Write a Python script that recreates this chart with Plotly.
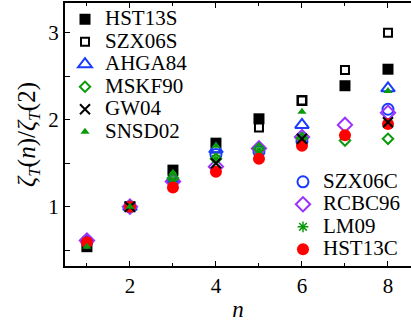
import plotly.graph_objects as go

# ---- data ----
n_hst13s = [1, 2, 3, 4, 5, 6, 7, 8]
v_hst13s = [0.54, 1.0, 1.42, 1.73, 2.01, 2.22, 2.39, 2.58]

n_szx06s = [1, 2, 3, 4, 5, 6, 7, 8]
v_szx06s = [0.56, 1.0, 1.36, 1.67, 1.91, 2.22, 2.57, 3.0]

n_ahga84 = [2, 3, 4, 6, 8]
v_ahga84 = [1.0, 1.32, 1.66, 1.94, 2.36]

n_mskf90 = [2, 3, 4, 5, 6, 7, 8]
v_mskf90 = [1.0, 1.33, 1.55, 1.67, 1.79, 1.76, 1.78]

n_gw04 = [2, 4, 6, 8]
v_gw04 = [1.0, 1.5, 1.78, 1.97]

n_snsd02 = [1, 2, 3, 4, 6, 8]
v_snsd02 = [0.54, 1.0, 1.39, 1.70, 2.09, 2.33]

n_szx06c = [1, 2, 3, 4, 5, 6, 8]
v_szx06c = [0.6, 1.0, 1.30, 1.60, 1.63, 1.75, 2.12]

n_rcbc96 = [1, 2, 3, 4, 5, 6, 7, 8]
v_rcbc96 = [0.61, 1.0, 1.29, 1.46, 1.67, 1.80, 1.94, 2.08]

n_lm09 = [2, 3, 4, 5, 6]
v_lm09 = [1.0, 1.31, 1.55, 1.65, 1.78]

n_hst13c = [1, 2, 3, 4, 5, 6, 7, 8]
v_hst13c = [0.59, 1.0, 1.22, 1.40, 1.55, 1.70, 1.82, 1.95]

BLUE = "#1a3cff"
GREEN = "#0a9a0a"
PURPLE = "#9b30ff"
RED = "#ff0000"
SERIF = "Liberation Serif, Times New Roman, serif"

def lab(s):
    return "<span style='font-size:21px'>%s</span>" % s

fig = go.Figure()

def add(x, y, name, legend, rank, symbol, size, color, lcolor, lw):
    fig.add_trace(go.Scatter(
        x=x, y=y, mode="markers", name=lab(name), legend=legend, legendrank=rank,
        marker=dict(symbol=symbol, size=size, color=color,
                    line=dict(color=lcolor, width=lw)),
    ))

add(n_hst13s, v_hst13s, "HST13S", "legend", 1, "square", 11, "black", "black", 0)
add(n_szx06s, v_szx06s, "SZX06S", "legend", 2, "square", 8, "white", "black", 2)
add(n_ahga84, v_ahga84, "AHGA84", "legend", 3, "triangle-up-open", 12, BLUE, BLUE, 2)
add(n_szx06c, v_szx06c, "SZX06C", "legend2", 7, "circle-open", 11, BLUE, BLUE, 2)
add(n_rcbc96, v_rcbc96, "RCBC96", "legend2", 8, "diamond-open", 11, PURPLE, PURPLE, 2)
add(n_mskf90, v_mskf90, "MSKF90", "legend", 4, "diamond-open", 8, GREEN, GREEN, 2)
add(n_lm09, v_lm09, "LM09", "legend2", 9, "asterisk-open", 9, GREEN, GREEN, 1.5)
add(n_hst13c, v_hst13c, "HST13C", "legend2", 10, "circle", 12, RED, RED, 0)
add(n_gw04, v_gw04, "GW04", "legend", 5, "x-thin-open", 10, "black", "black", 2)
add(n_snsd02, v_snsd02, "SNSD02", "legend", 6, "triangle-up", 8, GREEN, GREEN, 0)

legend_common = dict(font=dict(family=SERIF, size=15, color="black"),
                     bgcolor="rgba(0,0,0,0)", borderwidth=0,
                     itemwidth=30, tracegroupgap=0,
                     xanchor="left", yanchor="top")

fig.update_layout(
    width=411, height=324,
    margin=dict(l=65, r=0, t=3, b=58),
    paper_bgcolor="white", plot_bgcolor="white",
    font=dict(family=SERIF, size=21, color="black"),
    showlegend=True,
    legend=dict(x=0.0, y=1.0, **legend_common),
    legend2=dict(x=0.63, y=0.382, **legend_common),
    xaxis=dict(
        range=[0.49, 8.535], tickvals=[2, 4, 6, 8], ticks="inside", ticklen=5,
        tickwidth=1, tickcolor="black",
        minor=dict(tickvals=[1, 3, 5, 7], ticks="inside", ticklen=3, tickcolor="black"),
        showline=True, linecolor="black", linewidth=2, mirror="ticks",
        showgrid=False, zeroline=False,
        tickfont=dict(family=SERIF, size=21),
        title=dict(text="<i>n</i>", font=dict(family=SERIF, size=23), standoff=4),
    ),
    yaxis=dict(
        range=[0.318, 3.341], tickvals=[1, 2, 3], ticks="inside", ticklen=5,
        tickwidth=1, tickcolor="black",
        minor=dict(tickvals=[0.5, 1.5, 2.5], ticks="inside", ticklen=5, tickcolor="black"),
        showline=True, linecolor="black", linewidth=2, mirror=False,
        showgrid=False, zeroline=False,
        tickfont=dict(family=SERIF, size=21),
        title=dict(text="<i>ζ</i><sub><i>T</i></sub>(<i>n</i>)/<i>ζ</i><sub><i>T</i></sub>(2)",
                   font=dict(family=SERIF, size=25), standoff=6),
    ),
)

fig.write_html("out.html")
